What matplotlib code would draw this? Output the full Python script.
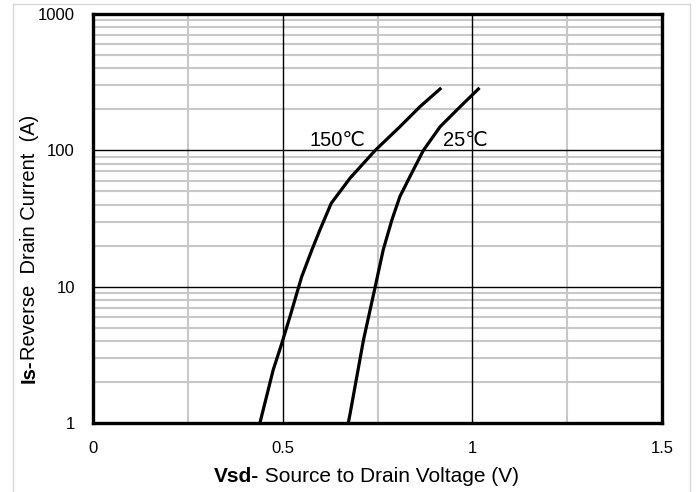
import numpy as np
import matplotlib
matplotlib.use('Agg')
from matplotlib import pyplot as plt
from matplotlib.lines import Line2D
from matplotlib.ticker import FixedLocator, NullFormatter

plt.rcParams['font.family'] = ['Liberation Sans', 'DejaVu Sans', 'Noto Sans CJK SC']

# curves
vsd_150 = [0.440, 0.475, 0.498, 0.519, 0.550, 0.577, 0.598, 0.628, 0.678, 0.744, 0.809, 0.862, 0.915]
is_150 = [1.0, 2.45, 3.86, 6.0, 11.8, 18.6, 26.0, 40.9, 62.7, 100, 149, 209, 282]
vsd_25 = [0.673, 0.678, 0.713, 0.744, 0.765, 0.788, 0.809, 0.840, 0.871, 0.915, 0.968, 1.016]
is_25 = [1.0, 1.18, 4.06, 10.0, 18.6, 30.9, 45.8, 67.9, 100, 149, 209, 282]

x_ticks = [0, 0.5, 1, 1.5]
x_tick_labels = ['0', '0.5', '1', '1.5']
y_ticks = [1, 10, 100, 1000]
y_tick_labels = ['1', '10', '100', '1000']

fig = plt.figure(figsize=(6.97, 4.92), dpi=100)
ax = fig.add_axes([93/697, 1 - 423/492, (662 - 93)/697, (423 - 14)/492])
ax.set_yscale('log')
ax.set_xlim(0, 1.5)
ax.set_ylim(1, 1000)

# grid: gray minor, black major
minor_x = [0.25, 0.75, 1.25]
minor_y = [m * d for d in [1, 10, 100] for m in range(2, 10)]
for v in minor_x:
    ax.axvline(v, color='#c8c8c8', lw=1.5, zorder=1)
for v in minor_y:
    ax.axhline(v, color='#c8c8c8', lw=1.5, zorder=1)
for v in [0.5, 1.0]:
    ax.axvline(v, color='black', lw=1.0, zorder=2)
for v in [10, 100]:
    ax.axhline(v, color='black', lw=1.0, zorder=2)

ax.plot(vsd_150, is_150, color='black', lw=2.3, zorder=3)
ax.plot(vsd_25, is_25, color='black', lw=2.3, zorder=3)

ax.text(0.572, 119, '150℃', fontsize=14.5, va='center', ha='left', zorder=4)
ax.text(0.923, 119, '25℃', fontsize=14.5, va='center', ha='left', zorder=4)

ax.xaxis.set_major_locator(FixedLocator(x_ticks))
ax.set_xticklabels(x_tick_labels)
ax.yaxis.set_major_locator(FixedLocator(y_ticks))
ax.yaxis.set_minor_formatter(NullFormatter())
ax.set_yticklabels(y_tick_labels)
ax.tick_params(which='both', length=0, labelsize=12)
ax.tick_params(axis='x', pad=13)
ax.tick_params(axis='y', pad=13)

for s in ax.spines.values():
    s.set_linewidth(2.4)
    s.set_zorder(5)

r = None

# x label with bold prefix
t1 = fig.text(0, 0, 'Vsd-', fontsize=15, fontweight='bold')
t2 = fig.text(0, 0, ' Source to Drain Voltage (V)', fontsize=15)
fig.canvas.draw()
r = fig.canvas.get_renderer()
w1 = t1.get_window_extent(r).width
w2 = t2.get_window_extent(r).width
x0 = (366.5 - (w1 + w2) / 2)
yb = 492 - 482
t1.set_position((x0 / 697, yb / 492))
t2.set_position(((x0 + w1) / 697, yb / 492))

# y label with bold prefix
u1 = fig.text(0, 0, 'Is-', fontsize=14.5, fontweight='bold', rotation=90, ha='left', va='bottom')
u2 = fig.text(0, 0, 'Reverse  Drain Current  (A)', fontsize=14.5, rotation=90, ha='left', va='bottom')
fig.canvas.draw()
h1 = u1.get_window_extent(r).height
h2 = u2.get_window_extent(r).height
y0 = (492 - 249) - (h1 + h2) / 2
xb = 20
u1.set_position((xb / 697, y0 / 492))
u2.set_position((xb / 697, (y0 + h1) / 492))

# outer light border
fig.add_artist(Line2D([12.5/697, 12.5/697], [0, 1 - 3.5/492], color='#d9d9d9', lw=1))
fig.add_artist(Line2D([690/697, 690/697], [0, 1 - 3.5/492], color='#d9d9d9', lw=1))
fig.add_artist(Line2D([12.5/697, 690/697], [1 - 3.5/492, 1 - 3.5/492], color='#d9d9d9', lw=1))

fig.savefig('out.png', dpi=100)
